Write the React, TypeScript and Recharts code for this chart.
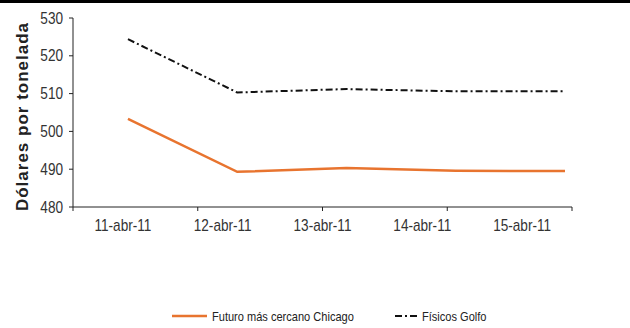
import React from "react";
import { LineChart, Line, XAxis, YAxis, Legend } from "recharts";

const dates = ["11-abr-11", "12-abr-11", "13-abr-11", "14-abr-11", "15-abr-11"];
const chicago = [503.3, 489.3, 490.3, 489.6, 489.5];
const golfo = [524.4, 510.3, 511.2, 510.6, 510.6];
const yTicks = [480, 490, 500, 510, 520, 530];

const data = dates.map((date, i) => ({
  date,
  pos: i,
  chicago: chicago[i],
  golfo: golfo[i],
}));

const sans = "'Liberation Sans', Arial, sans-serif";
const orange = "#E8742F";

// no narrow font installed, so squeeze Liberation Sans horizontally
const NarrowTick = (props: any) => {
  const { x, y, payload, textAnchor, vertical } = props;
  return (
    <g transform={`translate(${x},${y})`}>
      <text
        transform="scale(0.85,1)"
        textAnchor={textAnchor}
        dy={vertical ? "0.35em" : "0.71em"}
        fontFamily={sans}
        fontSize={16}
        fill="#333"
      >
        {payload.value}
      </text>
    </g>
  );
};

const NoLabel = () => <g />;

const YLabel = (props: any) => {
  const { x, y, height } = props.viewBox;
  const cx = x + 22;
  const cy = y + height / 2 + 4;
  return (
    <text
      x={cx}
      y={cy}
      transform={`rotate(-90 ${cx} ${cy})`}
      textAnchor="middle"
      dominantBaseline="central"
      fontFamily={sans}
      fontWeight="bold"
      fontSize={17}
      letterSpacing={1}
      fill="#222"
    >
      Dólares por tonelada
    </text>
  );
};

const squeeze = (w: number): React.CSSProperties => ({
  display: "inline-block",
  width: w,
  whiteSpace: "nowrap",
});

const inner: React.CSSProperties = {
  display: "inline-block",
  transform: "scaleX(0.85)",
  transformOrigin: "left",
};

const LegendBox = () => (
  <div
    style={{
      display: "flex",
      justifyContent: "flex-start",
      alignItems: "center",
      fontFamily: sans,
      fontSize: 13,
      color: "#222",
      height: 16,
      paddingLeft: 172,
    }}
  >
    <svg width={35} height={10} style={{ marginRight: 5 }}>
      <line x1={0} y1={5} x2={35} y2={5} stroke={orange} strokeWidth={2.5} />
    </svg>
    <span style={squeeze(183)}>
      <span style={inner}>Futuro más cercano Chicago</span>
    </span>
    <svg width={24} height={10} style={{ marginRight: 3 }}>
      <line x1={0} y1={5} x2={24} y2={5} stroke="#111" strokeWidth={2} strokeDasharray="7 3 2 3" />
    </svg>
    <span style={squeeze(60)}>
      <span style={inner}>Físicos Golfo</span>
    </span>
  </div>
);

export default function App() {
  return (
    <div
      style={{
        position: "absolute",
        left: 0,
        top: 0,
        width: 630,
        height: 328,
        background: "#fff",
      }}
    >
      <div style={{ position: "absolute", left: 0, top: 0, width: 630, height: 3, background: "#000" }} />
      <LineChart
        width={630}
        height={328}
        data={data}
        margin={{ top: 18, right: 58, left: 0, bottom: 4 }}
      >
        <XAxis
          xAxisId="axis1"
          type="number"
          domain={[0, 5]}
          ticks={[0, 1, 2, 3, 4, 5]}
          allowDataOverflow
          tick={<NoLabel />}
          tickSize={4}
          height={5}
          stroke="#222"
        />
        <XAxis
          xAxisId="axis2"
          dataKey="date"
          type="category"
          scale="band"
          axisLine={false}
          tickLine={false}
          height={96}
          tickSize={4}
          tickMargin={4}
          tick={<NarrowTick />}
        />
        <XAxis
          xAxisId="axis3"
          dataKey="pos"
          type="number"
          domain={[-0.503, 4.064]}
          allowDataOverflow
          hide
        />
        <YAxis
          domain={[480, 530]}
          ticks={yTicks}
          width={73}
          tickSize={4}
          tickMargin={6}
          stroke="#222"
          tick={<NarrowTick vertical />}
          label={<YLabel />}
        />
        <Line
          xAxisId="axis3"
          dataKey="golfo"
          stroke="#111"
          strokeWidth={2}
          strokeDasharray="7 3 2 3"
          dot={false}
          isAnimationActive={false}
        />
        <Line
          xAxisId="axis3"
          dataKey="chicago"
          stroke={orange}
          strokeWidth={2.5}
          dot={false}
          isAnimationActive={false}
        />
        <Legend verticalAlign="bottom" height={16} content={<LegendBox />} />
      </LineChart>
    </div>
  );
}
